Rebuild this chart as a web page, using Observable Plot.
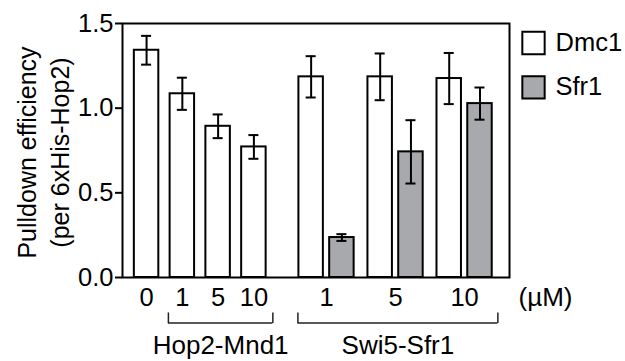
<!DOCTYPE html>
<html>
<head>
<meta charset="utf-8">
<script src="https://cdn.jsdelivr.net/npm/d3@7"></script>
<script src="https://cdn.jsdelivr.net/npm/@observablehq/plot@0.6"></script>
<style>
  html, body { margin: 0; padding: 0; background: #fff; }
  #chart svg { display: block; font-family: "Liberation Sans", Arial, sans-serif; }
</style>
</head>
<body>
<div id="chart"></div>
<script>
// ---- data ----
const hopConc = [0, 1, 5, 10];
const hopDmc1 = [1.342, 1.085, 0.893, 0.771];
const hopDmc1Err = [0.085, 0.095, 0.07, 0.07];

const swiConc = [1, 5, 10];
const swiDmc1 = [1.185, 1.185, 1.175];
const swiDmc1Err = [0.122, 0.138, 0.151];
const swiSfr1 = [0.236, 0.742, 1.027];
const swiSfr1Err = [0.02, 0.187, 0.095];

const groupNames = ["Hop2-Mnd1", "Swi5-Sfr1"];
const seriesNames = ["Dmc1", "Sfr1"];
const yTicks = [0, 0.5, 1.0, 1.5];
const unitLabel = "(µM)";
const yLabel = "Pulldown efficiency\n(per 6xHis-Hop2)";

// ---- layout (slot units) ----
const hopStep = 1.0, swiStart = 4.6, pairStep = 1.93, pairOffset = 0.86, halfBar = 0.342, capHalf = 0.14;
const colors = {Dmc1: "#ffffff", Sfr1: "#a8a9ad"};

const bars = [];
hopConc.forEach((c, i) => bars.push({group: groupNames[0], conc: c, series: "Dmc1", value: hopDmc1[i], err: hopDmc1Err[i], pos: i * hopStep}));
swiConc.forEach((c, i) => {
  bars.push({group: groupNames[1], conc: c, series: "Dmc1", value: swiDmc1[i], err: swiDmc1Err[i], pos: swiStart + i * pairStep});
  bars.push({group: groupNames[1], conc: c, series: "Sfr1", value: swiSfr1[i], err: swiSfr1Err[i], pos: swiStart + i * pairStep + pairOffset});
});

const ticks = [
  ...hopConc.map((c, i) => ({pos: i * hopStep, label: String(c)})),
  ...swiConc.map((c, i) => ({pos: swiStart + i * pairStep + pairOffset / 2, label: String(c)}))
];

const brackets = [
  {name: groupNames[0], x1: 1 * hopStep - 0.39, x2: 3 * hopStep + 0.53},
  {name: groupNames[1], x1: swiStart - 0.37, x2: swiStart + 2 * pairStep + pairOffset + 0.5}
];

const legendMarks = seriesNames.flatMap((s, i) => [
  Plot.dot([s], {frameAnchor: "top-right", dx: 24, dy: 19.5 + i * 44.3, symbol: "square", r: 12.6, fill: colors[s], stroke: "#000", strokeWidth: 2}),
  Plot.text([s], {frameAnchor: "top-right", dx: 46, dy: 19.5 + i * 44.3, text: d => d, textAnchor: "start", lineAnchor: "middle", fontSize: 25.5, fill: "#000"})
]);

const chart = Plot.plot({
  width: 625,
  height: 361,
  marginLeft: 122,
  marginRight: 116,
  marginTop: 23,
  marginBottom: 84,
  style: {fontFamily: "Liberation Sans, Arial, sans-serif", fontSize: "25px", color: "#000", background: "#fff"},
  x: {type: "linear", domain: [-0.673, 10.145], axis: null},
  y: {domain: [0, 1.5], axis: null},
  marks: [
    Plot.rect(bars, {x1: d => d.pos - halfBar, x2: d => d.pos + halfBar, y1: 0, y2: "value", fill: d => colors[d.series], stroke: "#000", strokeWidth: 2}),
    Plot.ruleX(bars, {x: "pos", y1: d => d.value - d.err, y2: d => d.value + d.err, stroke: "#000", strokeWidth: 2}),
    Plot.ruleY(bars, {y: d => d.value + d.err, x1: d => d.pos - capHalf, x2: d => d.pos + capHalf, stroke: "#000", strokeWidth: 2}),
    Plot.ruleY(bars, {y: d => d.value - d.err, x1: d => d.pos - capHalf, x2: d => d.pos + capHalf, stroke: "#000", strokeWidth: 2}),
    Plot.frame({stroke: "#000", strokeWidth: 2}),
    Plot.axisY(yTicks, {tickFormat: d => d.toFixed(1), tickSize: 7, tickPadding: 2, fontSize: 25.5, strokeWidth: 2, stroke: "#000", fill: "#000", label: null}),
    Plot.text([yLabel], {frameAnchor: "left", dx: -80.5, dy: 2, rotate: -90, text: d => d, lineHeight: 1.3, lineAnchor: "middle", textAnchor: "middle", fontSize: 25, fill: "#000"}),
    Plot.text(ticks, {x: "pos", y: 0, dy: 20, text: "label", lineAnchor: "middle", fontSize: 25.5, fill: "#000"}),
    Plot.text([unitLabel], {frameAnchor: "bottom-right", dx: 9, dy: 20, text: d => d, textAnchor: "start", lineAnchor: "middle", fontSize: 26, fill: "#000"}),
    Plot.ruleY(brackets, {y: 0, x1: "x1", x2: "x2", dy: 45.4, stroke: "#222", strokeWidth: 1.5}),
    Plot.ruleX(brackets, {x: "x1", y1: 0, y2: 0, insetTop: 35.4, insetBottom: -46, stroke: "#222", strokeWidth: 1.5}),
    Plot.ruleX(brackets, {x: "x2", y1: 0, y2: 0, insetTop: 35.4, insetBottom: -46, stroke: "#222", strokeWidth: 1.5}),
    Plot.text(brackets, {x: d => (d.x1 + d.x2) / 2, y: 0, dy: 68, text: "name", lineAnchor: "middle", fontSize: 26, fill: "#000"}),
    ...legendMarks
  ]
});
document.getElementById("chart").appendChild(chart);
</script>
</body>
</html>
